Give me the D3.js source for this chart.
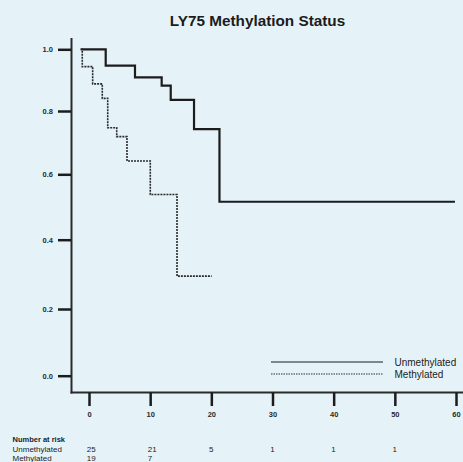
<!DOCTYPE html>
<html><head><meta charset="utf-8">
<script src="https://cdn.jsdelivr.net/npm/d3@7"></script>
<style>
html,body{margin:0;padding:0;background:#e5f3f9;}
svg{display:block;font-family:"Liberation Sans",Arial,sans-serif;}
</style></head>
<body>
<script>
// ---- data ----
const title = "LY75 Methylation Status";
const seriesNames = ["Unmethylated", "Methylated"];
const unmethTimes = [-1.36, 2.73, 7.52, 11.88, 13.36, 17.17, 21.33, 59.83];
const unmethSurv  = [1.0, 0.947, 0.909, 0.882, 0.836, 0.743, 0.516, 0.516];
const methTimes = [-1.36, -1.10, 0.60, 2.17, 3.06, 4.53, 6.21, 10.02, 14.39, 20.06];
const methSurv  = [1.0, 0.944, 0.888, 0.841, 0.747, 0.719, 0.642, 0.538, 0.295, 0.295];
const xTicks = [0, 10, 20, 30, 40, 50, 60];
const yTicks = [0.0, 0.2, 0.4, 0.6, 0.8, 1.0];
const riskTimes = [0, 10, 20, 30, 40, 50];
const riskUnmeth = [25, 21, 5, 1, 1, 1];
const riskMeth = [19, 7];

// ---- layout ----
const W = 463, H = 462;
const svg = d3.select("body").append("svg").attr("width", W).attr("height", H);
svg.append("rect").attr("width", W).attr("height", H).attr("fill", "#e5f3f9");

const x = d3.scaleLinear().domain([0, 60]).range([89, 456]);
const y = d3.scaleLinear().domain(yTicks).range([375.7, 309, 239.7, 174.3, 111, 49.3]);

const ink = "#1c1c1c";

// title
svg.append("text").attr("x", 257.5).attr("y", 25.5).attr("text-anchor", "middle")
  .attr("font-size", 15.3).attr("font-weight", "bold").attr("fill", ink).text(title);

// axes lines
svg.append("line").attr("x1", 71.5).attr("x2", 71.5).attr("y1", 38).attr("y2", 393.5)
  .attr("stroke", "#2a2a2a").attr("stroke-width", 2);
svg.append("line").attr("x1", 70.5).attr("x2", 463).attr("y1", 392.5).attr("y2", 392.5)
  .attr("stroke", "#2a2a2a").attr("stroke-width", 2);

// y axis
const yAxis = svg.append("g").attr("transform", "translate(71,0)")
  .call(d3.axisLeft(y).tickValues(yTicks).tickFormat(d3.format(".1f")).tickSize(13).tickPadding(5));
yAxis.select(".domain").remove();
yAxis.selectAll(".tick line").attr("stroke", ink).attr("stroke-width", 2.5);
yAxis.selectAll(".tick text").attr("font-size", 7.5).attr("font-weight", "bold")
  .attr("fill", "#2a2a2a").attr("font-family", "Liberation Sans, Arial, sans-serif");

// x axis
const xAxis = svg.append("g").attr("transform", "translate(0,392.5)")
  .call(d3.axisBottom(x).tickValues(xTicks).tickFormat(d3.format("d")).tickSize(13.5).tickPadding(6));
xAxis.select(".domain").remove();
xAxis.selectAll(".tick line").attr("stroke", ink).attr("stroke-width", 2.5);
xAxis.selectAll(".tick text").attr("font-size", 7.5).attr("font-weight", "bold")
  .attr("fill", "#2a2a2a").attr("font-family", "Liberation Sans, Arial, sans-serif");

// curves
const line = d3.line().x(d => x(d[0])).y(d => y(d[1])).curve(d3.curveStepAfter);
svg.append("path").datum(d3.zip(unmethTimes, unmethSurv)).attr("d", line)
  .attr("fill", "none").attr("stroke", ink).attr("stroke-width", 2.2);
svg.append("path").datum(d3.zip(methTimes, methSurv)).attr("d", line)
  .attr("fill", "none").attr("stroke", "#2a2a2a").attr("stroke-width", 1.6)
  .attr("stroke-dasharray", "2,1");

// legend
const legY = [362, 374];
svg.append("line").attr("x1", 271).attr("x2", 383).attr("y1", legY[0]).attr("y2", legY[0])
  .attr("stroke", ink).attr("stroke-width", 1.2);
svg.append("line").attr("x1", 271).attr("x2", 383).attr("y1", legY[1]).attr("y2", legY[1])
  .attr("stroke", "#333").attr("stroke-width", 1).attr("stroke-dasharray", "1.5,1");
seriesNames.forEach((n, i) => {
  svg.append("text").attr("x", 394.5).attr("y", legY[i] + 3.6).attr("font-size", 10)
    .attr("fill", "#222").text(n);
});

// number at risk
svg.append("text").attr("x", 12.5).attr("y", 441.5).attr("font-size", 7.5)
  .attr("font-weight", "bold").attr("fill", "#222").text("Number at risk");
svg.append("text").attr("x", 12.5).attr("y", 451.7).attr("font-size", 8)
  .attr("fill", "#222").text(seriesNames[0]);
svg.append("text").attr("x", 12.5).attr("y", 460.7).attr("font-size", 8)
  .attr("fill", "#222").text(seriesNames[1]);
riskUnmeth.forEach((v, i) => {
  svg.append("text").attr("x", x(riskTimes[i]) - 2.3).attr("y", 451.7).attr("font-size", 8)
    .attr("fill", "#222").text(v);
});
riskMeth.forEach((v, i) => {
  svg.append("text").attr("x", x(riskTimes[i]) - 2.3).attr("y", 460.7).attr("font-size", 8)
    .attr("fill", "#222").text(v);
});
</script>
</body></html>
